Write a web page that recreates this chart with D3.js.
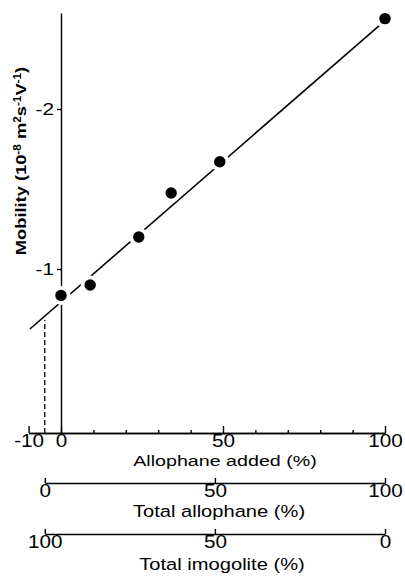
<!DOCTYPE html>
<html>
<head>
<meta charset="utf-8">
<script src="https://cdn.jsdelivr.net/npm/d3@7"></script>
<style>
  body { margin: 0; background: #fff; }
  svg text { font-family: "Liberation Sans", Arial, sans-serif; fill: #000; }
</style>
</head>
<body>
<div id="chart"></div>
<script>
// chart size
const width = 405, height = 577;

// data
const allophaneAdded = [0, 9, 24, 34, 49, 100];
const mobility = [-0.835, -0.90, -1.20, -1.475, -1.67, -2.565];
// regression line end points (allophane added %, mobility)
const fitX = [-9.6, 100];
const fitY = [-0.625, -2.552];
const interceptX = -5;   // extrapolated 0 % total allophane

const mobilityTicks = [-1, -2];
const addedMajor = [-10, 0, 50, 100];
const addedMinor = [10, 20, 30, 40, 60, 70, 80, 90];
const totalTicks = [0, 50, 100];

const svg = d3.select("#chart").append("svg")
  .attr("width", width)
  .attr("height", height);

// scales
const xScale = d3.scaleLinear().domain([-10, 100]).range([28.6, 385]);
const yScale = d3.scaleLinear().domain([0.025, -2.6]).range([433, 13]);
const fitLine = d3.scaleLinear().domain(fitX).range(fitY);

const xTotalAllo = d3.scaleLinear().domain([0, 100]).range([xScale(interceptX), xScale(100)]);
const xTotalImo = d3.scaleLinear().domain([100, 0]).range([xScale(interceptX), xScale(100)]);

// plain hyphen minus like the print
const fmt = d => (d < 0 ? "-" + (-d) : String(d));

// helper to style the axes like the print
function styleAxis(g, fontSize, sx) {
  g.select(".domain").attr("stroke", "#000").attr("stroke-width", 1.4);
  g.selectAll(".tick line").attr("stroke", "#000").attr("stroke-width", 1.4);
  g.selectAll(".tick text")
    .style("font-size", fontSize + "px")
    .attr("transform", `scale(${sx},1)`);
}

// y axis (labels drawn separately below)
svg.append("g")
  .attr("transform", `translate(${xScale(0)},0)`)
  .call(d3.axisLeft(yScale).tickValues(mobilityTicks).tickSize(4).tickSizeOuter(0).tickFormat(""))
  .call(g => styleAxis(g, 16, 1));

svg.selectAll(".ylab")
  .data(mobilityTicks)
  .join("text")
  .attr("class", "ylab")
  .attr("transform", d => `translate(${xScale(0) - 7},${yScale(d) + 6}) scale(1.3,1)`)
  .attr("text-anchor", "end")
  .style("font-size", "16px")
  .text(fmt);

// y axis title
const yTitle = svg.append("text")
  .attr("transform", "translate(26,161) rotate(-90) scale(1.18,1)")
  .attr("text-anchor", "middle")
  .style("font-size", "15.5px")
  .style("font-weight", "bold");
yTitle.append("tspan").text("Mobility (10");
yTitle.append("tspan").attr("dy", -5).style("font-size", "10px").text("-8");
yTitle.append("tspan").attr("dy", 5).text(" m");
yTitle.append("tspan").attr("dy", -5).style("font-size", "10px").text("2");
yTitle.append("tspan").attr("dy", 5).text("s");
yTitle.append("tspan").attr("dy", -5).style("font-size", "10px").text("-1");
yTitle.append("tspan").attr("dy", 5).text("V");
yTitle.append("tspan").attr("dy", -5).style("font-size", "10px").text("-1");
yTitle.append("tspan").attr("dy", 5).text(")");

// x axis: allophane added
const xAxisY = yScale(0.025);
svg.append("g")
  .attr("transform", `translate(0,${xAxisY})`)
  .call(d3.axisBottom(xScale).tickValues(addedMinor).tickSize(-3).tickSizeOuter(0).tickFormat(""))
  .call(g => styleAxis(g, 18, 1.15));
svg.append("g")
  .attr("transform", `translate(0,${xAxisY})`)
  .call(d3.axisBottom(xScale).tickValues(addedMajor).tickSize(-7).tickSizeOuter(0).tickPadding(1.5).tickFormat(fmt))
  .call(g => styleAxis(g, 18, 1.15));

svg.append("text")
  .attr("transform", "translate(225,466) scale(1.27,1)")
  .attr("text-anchor", "middle")
  .style("font-size", "15.5px")
  .text("Allophane added (%)");

// total allophane axis
svg.append("g")
  .attr("transform", "translate(0,483)")
  .call(d3.axisBottom(xTotalAllo).tickValues(totalTicks).tickSize(-5).tickSizeOuter(0).tickPadding(1).tickFormat(fmt))
  .call(g => styleAxis(g, 18, 1.15));
svg.append("text")
  .attr("transform", "translate(219,517) scale(1.22,1)")
  .attr("text-anchor", "middle")
  .style("font-size", "16.5px")
  .text("Total allophane (%)");

// total imogolite axis
svg.append("g")
  .attr("transform", "translate(0,534)")
  .call(d3.axisBottom(xTotalImo).tickValues(totalTicks).tickSize(-5).tickSizeOuter(0).tickPadding(1).tickFormat(fmt))
  .call(g => styleAxis(g, 18, 1.15));
svg.append("text")
  .attr("transform", "translate(222,570) scale(1.22,1)")
  .attr("text-anchor", "middle")
  .style("font-size", "16.5px")
  .text("Total imogolite (%)");

// dashed drop line at the extrapolated intercept
svg.append("line")
  .attr("x1", xScale(interceptX)).attr("x2", xScale(interceptX))
  .attr("y1", xAxisY).attr("y2", yScale(fitLine(interceptX)) + 4)
  .attr("stroke", "#000")
  .attr("stroke-width", 1.3)
  .attr("stroke-dasharray", "5,3");

// regression line
svg.append("line")
  .attr("x1", xScale(fitX[0])).attr("y1", yScale(fitY[0]))
  .attr("x2", xScale(fitX[1])).attr("y2", yScale(fitY[1]))
  .attr("stroke", "#000")
  .attr("stroke-width", 1.6);

const pts = allophaneAdded.map((d, i) => ({ x: d, y: mobility[i] }));

// white halos make the gaps in the line around each point
svg.selectAll(".halo")
  .data(pts)
  .join("circle")
  .attr("class", "halo")
  .attr("cx", d => xScale(d.x))
  .attr("cy", d => yScale(d.y))
  .attr("r", 9.5)
  .attr("fill", "#fff");

svg.selectAll(".dot")
  .data(pts)
  .join("circle")
  .attr("class", "dot")
  .attr("cx", d => xScale(d.x))
  .attr("cy", d => yScale(d.y))
  .attr("r", 5.7)
  .attr("fill", "#000");
</script>
</body>
</html>
